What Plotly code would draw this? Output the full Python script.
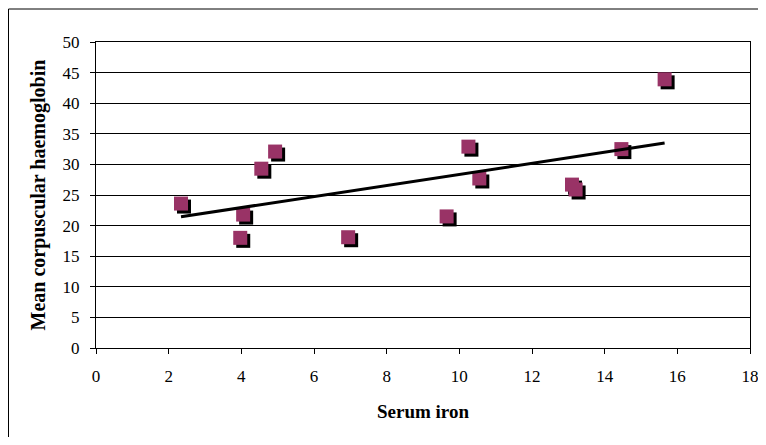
import numpy as np
import plotly.graph_objects as go

serum_iron = [2.34, 3.97, 4.05, 4.55, 4.93, 6.94, 9.65, 10.25, 10.55, 13.1, 13.2, 14.46, 15.65]
mch = [23.6, 18.0, 21.8, 29.3, 32.1, 18.1, 21.5, 32.9, 27.7, 26.7, 25.9, 32.5, 43.9]

x_ticks = [0, 2, 4, 6, 8, 10, 12, 14, 16, 18]
y_ticks = [0, 5, 10, 15, 20, 25, 30, 35, 40, 45, 50]

# page body has an 8px margin, so the figure is 16px smaller than the window
W, H = 750, 429
L, T = 88, 34
pw, ph = 654, 306
R, B = W - L - pw, H - T - ph
xr = [0, 18]
yr = [0, 50]
# shadow offset of 3 px converted to data units
dx = 3 * (xr[1] - xr[0]) / pw
dy = 3 * (yr[1] - yr[0]) / ph

xs = np.array(serum_iron)
ys = np.array(mch)
slope, intercept = np.polyfit(xs, ys, 1)
tx = np.array([xs.min(), xs.max()])
ty = slope * tx + intercept

serif = "Liberation Serif"

fig = go.Figure()
fig.add_trace(go.Scatter(x=xs + dx, y=ys - dy, mode="markers",
                         marker=dict(symbol="square", size=14, color="black", line=dict(width=0)),
                         hoverinfo="skip", showlegend=False))
fig.add_trace(go.Scatter(x=xs, y=ys, mode="markers",
                         marker=dict(symbol="square", size=14, color="#993366", line=dict(width=0)),
                         showlegend=False))
fig.add_trace(go.Scatter(x=tx, y=ty, mode="lines", line=dict(color="black", width=3),
                         showlegend=False, hoverinfo="skip"))

fig.update_layout(
    width=W, height=H,
    margin=dict(l=L, r=R, t=T, b=B, pad=0, autoexpand=False),
    paper_bgcolor="white", plot_bgcolor="white",
    font=dict(family=serif, color="black", size=17),
    xaxis=dict(range=xr, tickvals=x_ticks, ticks="outside", ticklen=5, tickcolor="black",
               showgrid=False, zeroline=False, showline=True, linecolor="black", linewidth=1,
               mirror=True, tickfont=dict(family=serif, size=17), ticklabelstandoff=8,
               ticklabeloverflow="allow", automargin=False,
               title=dict(text="<b>Serum iron</b>", font=dict(size=19, family=serif), standoff=19)),
    yaxis=dict(range=yr, tickvals=y_ticks, ticks="outside", ticklen=5, tickcolor="black",
               showgrid=True, gridcolor="black", gridwidth=1, zeroline=False,
               showline=True, linecolor="black", linewidth=1, mirror=True,
               tickfont=dict(family=serif, size=17), ticklabelstandoff=7,
               ticklabeloverflow="allow", automargin=False,
               title=dict(text="<b>Mean corpuscular haemoglobin</b>", font=dict(size=20, family=serif), standoff=11)),
    shapes=[dict(type="rect", xref="paper", yref="paper",
                 x0=(0.5 - L) / pw, x1=(W + 10 - L) / pw,
                 y0=-(H + 10 - T - ph) / ph, y1=(T - 1 + ph) / ph,
                 line=dict(color="black", width=1), fillcolor="rgba(0,0,0,0)", layer="below")],
)

fig.write_html("out.html")
